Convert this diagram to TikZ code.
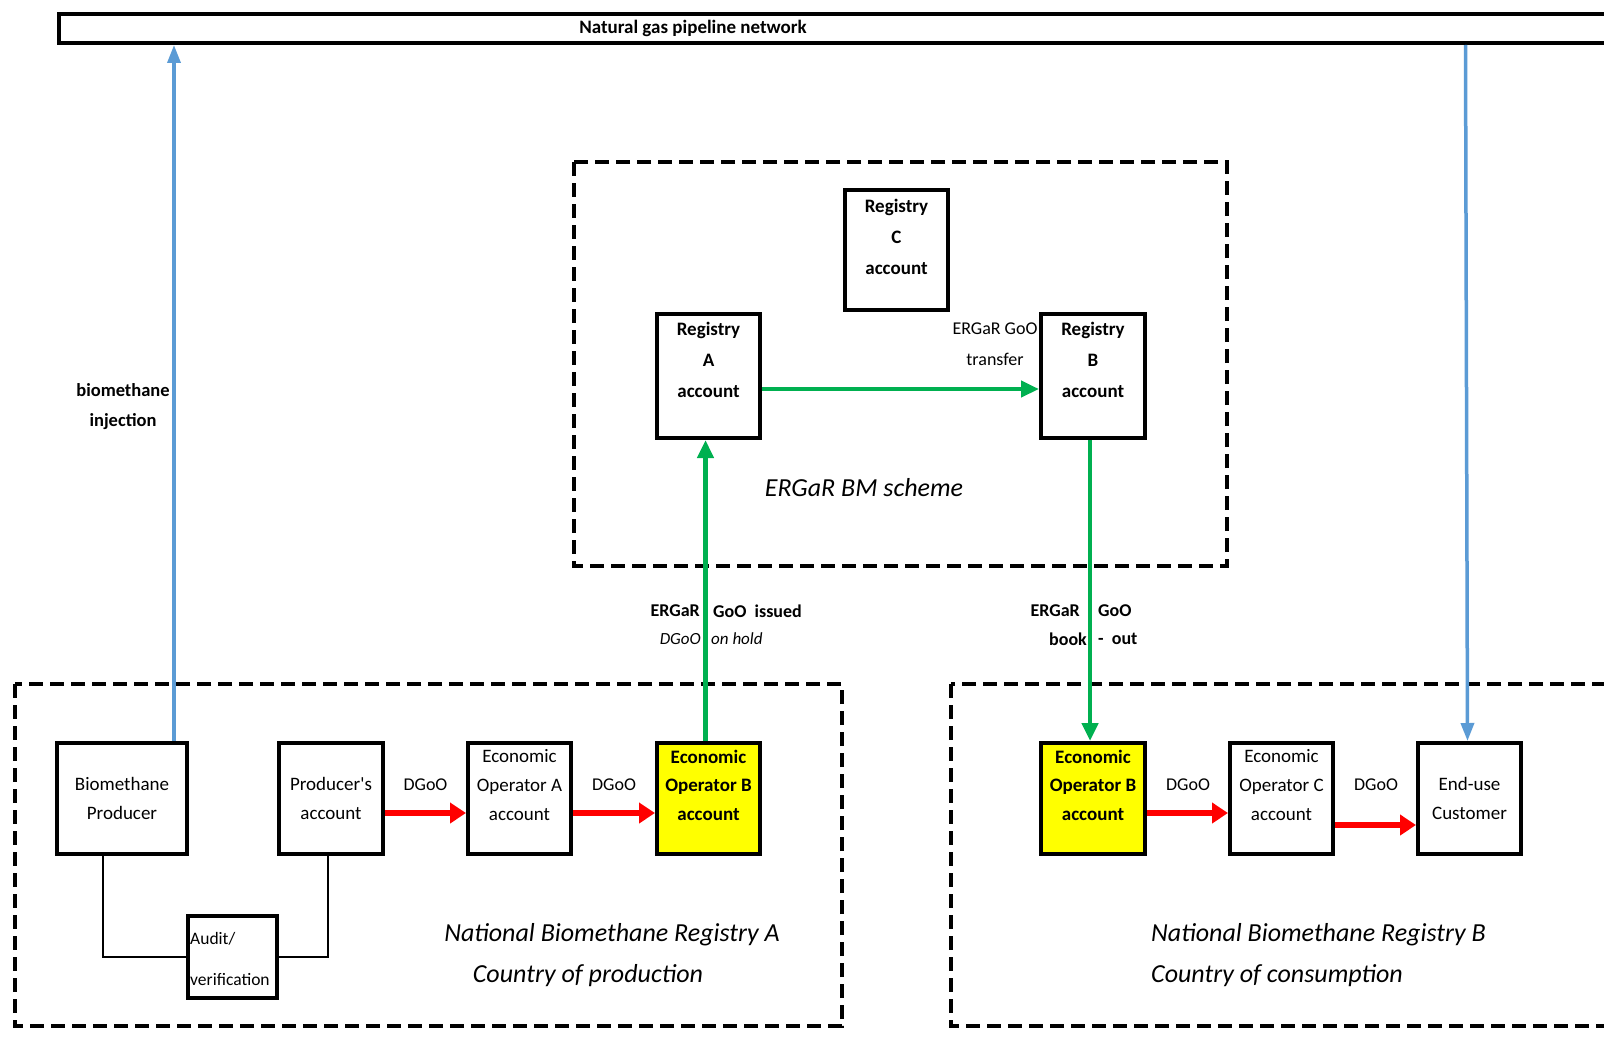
\documentclass[tikz,border=0pt]{standalone}
\usepackage{fontspec}
\setmainfont{Carlito}
\usetikzlibrary{arrows.meta,calc}
\definecolor{ggreen}{RGB}{0,176,80}
\definecolor{gblue}{RGB}{91,155,213}
\definecolor{gred}{RGB}{255,0,0}
\definecolor{gyellow}{RGB}{255,255,0}
\begin{document}
\begin{tikzpicture}[x=1pt,y=-1pt,
  box/.style={draw=black, line width=4pt, fill=white, inner sep=0pt},
  ybox/.style={box, fill=gyellow},
  txt/.style={font=\fontsize{19}{28.6}\selectfont, align=center, inner sep=0pt},
  btxt/.style={font=\fontsize{19}{28.6}\selectfont\bfseries, align=center, inner sep=0pt},
  regtxt/.style={font=\fontsize{19}{31}\selectfont\bfseries, align=center, inner sep=0pt},
  lbl/.style={font=\fontsize{18}{28}\selectfont, inner sep=0pt},
  blbl/.style={font=\fontsize{18}{28}\selectfont\bfseries, inner sep=0pt},
  ilbl/.style={font=\fontsize{17}{28}\selectfont\itshape, inner sep=0pt},
  ital/.style={font=\fontsize{26}{41}\selectfont\itshape, inner sep=0pt},
  dbox/.style={draw=black, line width=4pt, dash pattern=on 14pt off 7pt},
  garr/.style={draw=ggreen, line width=4.5pt, -{Triangle[length=18pt,width=16pt]}},
  barr/.style={draw=gblue, line width=3.5pt, -{Triangle[length=18pt,width=13pt]}},
  rarr/.style={draw=gred, line width=5.5pt, -{Triangle[length=16pt,width=20pt]}},
  conn/.style={draw=black, line width=2.5pt}
]
\useasboundingbox (0,0) rectangle (1604,1038);
\fill[white] (0,0) rectangle (1604,1038);

% dashed containers
\draw[dbox] (574,162) rectangle (1227,566);
\draw[dbox] (15,684) rectangle (842,1026);
\draw[dbox] (951,684) rectangle (1640,1026);

% pipeline
\node[box, minimum width=1600pt, minimum height=29pt, anchor=west] (pipe) at (57,28.5) {};
\node[btxt] (pipetxt) at (693,28) {Natural gas pipeline network};

% ERGaR scheme
\node[box, minimum width=103pt, minimum height=120pt] (rc) at (896.5,250) {};
\node[regtxt] (rctxt) at ([yshift=13pt]rc.center) {Registry\\C\\account};
\node[box, minimum width=103pt, minimum height=124pt] (ra) at (708.5,376) {};
\node[regtxt] (ratxt) at ([yshift=16pt]ra.center) {Registry\\A\\account};
\node[box, minimum width=104pt, minimum height=124pt] (rb) at (1093,376) {};
\node[regtxt] (rbtxt) at ([yshift=16pt]rb.center) {Registry\\B\\account};
\node[ital] (schemetxt) at (864,488) {ERGaR BM scheme};
\node[regtxt, font=\fontsize{18}{31}\selectfont] (transtxt) at (995,344.5) {ERGaR GoO\\transfer};

% production row
\node[box, minimum width=130pt, minimum height=111pt] (bp) at (122,798.5) {};
\node[txt] (bptxt) at (bp.center) {Biomethane\\Producer};
\node[box, minimum width=104pt, minimum height=111pt] (pa) at (331,798.5) {};
\node[txt] (patxt) at (pa.center) {Producer\textquotesingle s\\account};
\node[box, minimum width=103pt, minimum height=111pt] (eoa) at (519.5,798.5) {};
\node[txt] (eoatxt) at ([yshift=13.5pt]eoa.center) {Economic\\Operator A\\account};
\node[ybox, minimum width=103pt, minimum height=111pt] (eob1) at (708.5,798.5) {};
\node[btxt] (eob1txt) at ([yshift=13.5pt]eob1.center) {Economic\\Operator B\\account};
\node[box, minimum width=89pt, minimum height=82pt] (audit) at (232.5,957) {};
\node[txt, font=\fontsize{17.5}{41}\selectfont, align=left, anchor=west] (audittxt) at (190,958.5) {Audit/\\verification};

% consumption row
\node[ybox, minimum width=104pt, minimum height=111pt] (eob2) at (1093,798.5) {};
\node[btxt] (eob2txt) at ([yshift=13.5pt]eob2.center) {Economic\\Operator B\\account};
\node[box, minimum width=103pt, minimum height=111pt] (eoc) at (1281.5,798.5) {};
\node[txt] (eoctxt) at ([yshift=13.5pt]eoc.center) {Economic\\Operator C\\account};
\node[box, minimum width=103pt, minimum height=111pt] (eu) at (1469.5,798.5) {};
\node[txt] (eutxt) at (eu.center) {End-use\\Customer};

% audit connections
\draw[conn] ([xshift=-19pt]bp.south) |- (audit.west);
\draw[conn] ([xshift=-3pt]pa.south) |- (audit.east);

% blue gas flow
\draw[barr] ([xshift=52pt]bp.north) -- ([xshift=52pt]bp.north |- pipe.south);
\draw[barr] ([xshift=-4pt]eu.north |- pipe.south) -- ([xshift=-2pt]eu.north);
\node[blbl, align=center, font=\fontsize{18.5}{30}\selectfont\bfseries] (injtxt) at (123,407) {biomethane\\injection};

% green ERGaR flow
\draw[garr] ([xshift=-3pt]eob1.north) -- ([xshift=-3pt]ra.south);
\draw[garr] ([yshift=-13pt]ra.east) -- ([yshift=-13pt]ra.east -| rb.west);
\draw[garr] ([xshift=-3pt]rb.south) -- ([xshift=-3pt]eob2.north);

\node[blbl, anchor=east] (iss1) at (700,611) {ERGaR};
\node[blbl, anchor=west] (iss2) at (713,611) {GoO\ \ issued};
\node[ilbl, anchor=east] (hold1) at (701,639) {DGoO};
\node[ilbl, anchor=west] (hold2) at (711,639) {on hold};
\node[blbl, anchor=east] (bo1) at (1080,611) {ERGaR};
\node[blbl, anchor=west] (bo2) at (1098,611) {GoO};
\node[blbl, anchor=east] (bo3) at (1087,639) {book};
\node[blbl, anchor=west] (bo4) at (1098,639) {-\ \ out};

% red DGoO flow
\draw[rarr] ([yshift=-14.5pt]pa.east) -- ([yshift=-14.5pt]pa.east -| eoa.west);
\draw[rarr] ([yshift=-14.5pt]eoa.east) -- ([yshift=-14.5pt]eoa.east -| eob1.west);
\draw[rarr] ([yshift=-14.5pt]eob2.east) -- ([yshift=-14.5pt]eob2.east -| eoc.west);
\draw[rarr] ([yshift=-26.5pt]eoc.east) -- ([yshift=-26.5pt]eoc.east -| eu.west);
\node[lbl] (d1) at (425.5,785) {DGoO};
\node[lbl] (d2) at (614,785) {DGoO};
\node[lbl] (d3) at (1188,785) {DGoO};
\node[lbl] (d4) at (1376,785) {DGoO};

% registry captions
\node[ital] (natA) at (612,935) {National Biomethane Registry A};
\node[ital] (ctyA) at (588,976) {Country of production};
\node[ital, anchor=west] (natB) at (1151,935) {National Biomethane Registry B};
\node[ital, anchor=west] (ctyB) at (1151,976) {Country of consumption};
\end{tikzpicture}
\end{document}
